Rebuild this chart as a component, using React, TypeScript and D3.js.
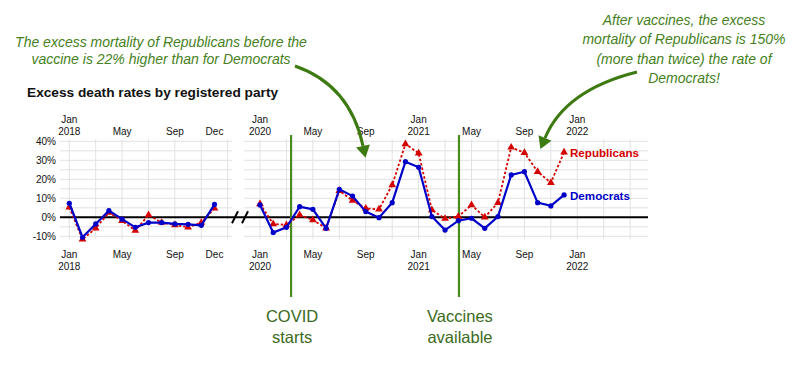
import * as d3 from "d3";
import React, { useEffect, useRef } from "react";

// monthly excess death rates (%), 2018 panel
const dem2018 = [7.4, -10.5, -3.5, 3.5, -1, -5.3, -2.8, -2.8, -3.5, -3.7, -4.2, 6.8];
const rep2018 = [5.3, -11.6, -5.8, 2.5, -1.8, -7, 1.2, -2.8, -4, -5.3, -2.8, 4.7];

// Jan 2020 .. Dec 2021
const dem2020 = [6.5, -8, -5.3, 5.6, 4.2, -5.8, 14.7, 11.2, 3, -0.2, 7.7, 29.3,
  26.3, 0.4, -6.7, -1.8, -0.5, -5.8, 0.4, 22.3, 24, 7.7, 6, 11.8];
const rep2020 = [7, -3.5, -4, 1.2, -1.4, -5.8, 14, 8.8, 4.7, 4.2, 17, 38.6,
  33.7, 3.9, -0.7, 0.4, 6.5, 0, 7.7, 36.8, 34, 24, 18.2, 34.2];

const yTicks = [40, 30, 20, 10, 0, -10];
const leftTicks = [
  { m: 0, label: ["Jan", "2018"] },
  { m: 4, label: ["May"] },
  { m: 8, label: ["Sep"] },
  { m: 11, label: ["Dec"] },
];
const rightTicks = [
  { m: 0, label: ["Jan", "2020"] },
  { m: 4, label: ["May"] },
  { m: 8, label: ["Sep"] },
  { m: 12, label: ["Jan", "2021"] },
  { m: 16, label: ["May"] },
  { m: 20, label: ["Sep"] },
  { m: 24, label: ["Jan", "2022"] },
];
// events, in months since Jan 2020
const events = [
  { m: 2.35, label: ["COVID", "starts"] },
  { m: 15.05, label: ["Vaccines", "available"] },
];
const noteLeft = [
  "The excess mortality of Republicans before the",
  "vaccine is 22% higher than for Democrats",
];
const noteRight = [
  "After vaccines, the excess",
  "mortality of Republicans is 150%",
  "(more than twice) the rate of",
  "Democrats!",
];

const RED = "#d40000";
const BLUE = "#0000c8";
const GREEN = "#4a8a1e";
const DARKGREEN = "#3d7a12";
const FONT = "'Liberation Sans', Arial, sans-serif";

function App() {
  const svgRef = useRef(null);

  useEffect(() => {
    const svg = d3.select(svgRef.current);
    svg.selectAll("*").remove();

    const y = d3.scaleLinear().domain([-10, 40]).range([236.3, 141.3]);
    const xL = d3.scaleLinear().domain([0, 11]).range([69.3, 214.5]);
    const xR = d3.scaleLinear().domain([0, 24]).range([260, 577.3]);

    const panels = [
      { x: xL, x0: 60, x1: 232, grid: d3.range(0, 13, 2), ticks: leftTicks, dem: dem2018, rep: rep2018 },
      { x: xR, x0: 244, x1: 648, grid: d3.range(0, 29, 2), ticks: rightTicks, dem: dem2020, rep: rep2020 },
    ];

    // title
    svg.append("text").attr("x", 27).attr("y", 97)
      .attr("font-family", FONT).attr("font-size", 13.7).attr("font-weight", "bold")
      .attr("fill", "#111").text("Excess death rates by registered party");

    panels.forEach((p) => {
      const g = svg.append("g");
      // horizontal grid
      g.selectAll(".hg").data(d3.range(-10, 41, 5)).join("line")
        .attr("x1", p.x0).attr("x2", p.x1)
        .attr("y1", (d) => y(d)).attr("y2", (d) => y(d))
        .attr("stroke", "#e2e2e2").attr("stroke-width", 1);
      // vertical grid
      g.selectAll(".vg").data(p.grid.filter((m) => p.x(m) < p.x1)).join("line")
        .attr("x1", (d) => p.x(d)).attr("x2", (d) => p.x(d))
        .attr("y1", y(40) - 2).attr("y2", y(-10) + 3)
        .attr("stroke", "#e2e2e2").attr("stroke-width", 1);

      // month labels top and bottom
      p.ticks.forEach((t) => {
        const tx = p.x(t.m);
        const top = g.append("text").attr("text-anchor", "middle")
          .attr("font-family", FONT).attr("font-size", 10).attr("fill", "#111");
        if (t.label.length === 2) {
          top.append("tspan").attr("x", tx).attr("y", 123).text(t.label[0]);
          top.append("tspan").attr("x", tx).attr("y", 135).text(t.label[1]);
        } else {
          top.append("tspan").attr("x", tx).attr("y", 135).text(t.label[0]);
        }
        const bot = g.append("text").attr("text-anchor", "middle")
          .attr("font-family", FONT).attr("font-size", 10).attr("fill", "#111");
        t.label.forEach((s, i) => {
          bot.append("tspan").attr("x", tx).attr("y", 258 + i * 11.5).text(s);
        });
      });
    });

    // y axis labels
    svg.selectAll(".yl").data(yTicks).join("text")
      .attr("x", 56).attr("y", (d) => y(d) + 3.5).attr("text-anchor", "end")
      .attr("font-family", FONT).attr("font-size", 10).attr("fill", "#111")
      .text((d) => d + "%");

    // zero line with break marks
    svg.append("line").attr("x1", 60).attr("x2", 648)
      .attr("y1", y(0)).attr("y2", y(0)).attr("stroke", "#000").attr("stroke-width", 2);
    [235, 245].forEach((bx) => {
      svg.append("line").attr("x1", bx - 3).attr("x2", bx + 3)
        .attr("y1", y(0) + 6).attr("y2", y(0) - 6)
        .attr("stroke", "#000").attr("stroke-width", 2);
    });

    // event lines
    events.forEach((e) => {
      const ex = xR(e.m);
      svg.append("line").attr("x1", ex).attr("x2", ex).attr("y1", 135).attr("y2", 297)
        .attr("stroke", GREEN).attr("stroke-width", 2.2);
      const t = svg.append("text").attr("text-anchor", "middle")
        .attr("font-family", FONT).attr("font-size", 16.5).attr("fill", "#3a6a1c");
      e.label.forEach((s, i) => {
        t.append("tspan").attr("x", ex + 1).attr("y", 322 + i * 21).text(s);
      });
    });

    // series
    const tri = d3.symbol().type(d3.symbolTriangle).size(26);
    panels.forEach((p) => {
      const line = d3.line<number>().x((d, i) => p.x(i)).y((d) => y(d));
      svg.append("path").datum(p.rep).attr("d", line)
        .attr("fill", "none").attr("stroke", RED).attr("stroke-width", 1.8)
        .attr("stroke-dasharray", "2.5,2");
      svg.append("g").selectAll("path").data(p.rep).join("path")
        .attr("d", tri).attr("fill", RED)
        .attr("transform", (d, i) => `translate(${p.x(i)},${y(d)})`);
      svg.append("path").datum(p.dem).attr("d", line)
        .attr("fill", "none").attr("stroke", BLUE).attr("stroke-width", 2.2);
      svg.append("g").selectAll("circle").data(p.dem).join("circle")
        .attr("cx", (d, i) => p.x(i)).attr("cy", (d) => y(d)).attr("r", 2.6)
        .attr("fill", BLUE);
    });

    // series labels
    svg.append("text").attr("x", 570).attr("y", y(rep2020[23]) + 5)
      .attr("font-family", FONT).attr("font-size", 11.6).attr("font-weight", "bold")
      .attr("fill", RED).text("Republicans");
    svg.append("text").attr("x", 570).attr("y", y(dem2020[23]) + 5)
      .attr("font-family", FONT).attr("font-size", 11.6).attr("font-weight", "bold")
      .attr("fill", BLUE).text("Democrats");

    // annotations
    const note = (lines, cx, y0, dy) => {
      const t = svg.append("text").attr("text-anchor", "middle")
        .attr("font-family", FONT).attr("font-size", 14).attr("font-style", "italic")
        .attr("fill", "#467f22");
      lines.forEach((s, i) => t.append("tspan").attr("x", cx).attr("y", y0 + i * dy).text(s));
    };
    note(noteLeft, 161, 47, 17);
    note(noteRight, 684, 25, 19.3);

    const arrow = (sx, sy, cx, cy, ex, ey) => {
      const p = d3.path();
      p.moveTo(sx, sy);
      p.quadraticCurveTo(cx, cy, ex, ey);
      svg.append("path").attr("d", p.toString()).attr("fill", "none")
        .attr("stroke", DARKGREEN).attr("stroke-width", 3);
      const len = Math.hypot(ex - cx, ey - cy);
      const ux = (ex - cx) / len, uy = (ey - cy) / len;
      const tipx = ex + ux * 12, tipy = ey + uy * 12;
      const px = -uy * 7, py = ux * 7;
      svg.append("path")
        .attr("d", `M${tipx},${tipy}L${ex + px},${ey + py}L${ex - px},${ey - py}Z`)
        .attr("fill", DARKGREEN);
    };
    arrow(295, 66, 350, 85, 363, 146);
    arrow(637, 72, 565, 90, 545, 138);
  }, []);

  return (
    <div style={{ position: "absolute", left: 0, top: 0 }}>
      <svg ref={svgRef} width={800} height={365} style={{ display: "block", background: "#fff" }} />
    </div>
  );
}

export default App;
